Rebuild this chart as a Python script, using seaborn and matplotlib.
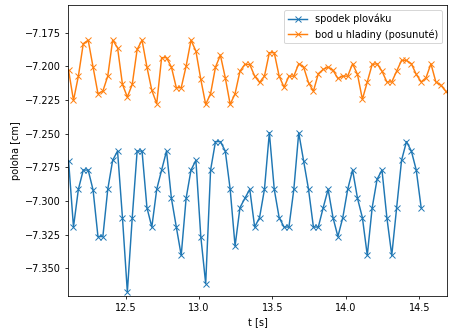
import numpy as np
import pandas as pd
import matplotlib
matplotlib.use("Agg")
import matplotlib.pyplot as plt
import seaborn as sns

# sampling: video at 30 fps, first frame at ~12.112 s
FPS = 30
T_START = 12.112

LABEL_BOTTOM = 'spodek plováku'
LABEL_SURFACE = 'bod u hladiny (posunuté)'

# poloha [cm]
bottom_pos = [
    -7.2703, -7.3193, -7.2913, -7.2770, -7.2770, -7.2918, -7.3264, -7.3264, -7.2913, -7.2698,
    -7.2629, -7.3123, -7.3675, -7.3123, -7.2629, -7.2629, -7.3049, -7.3193, -7.2913, -7.2770,
    -7.2629, -7.2980, -7.3193, -7.3403, -7.2980, -7.2770, -7.2698, -7.3264, -7.3613, -7.2770,
    -7.2559, -7.2559, -7.2629, -7.2913, -7.3334, -7.3049, -7.2980, -7.2913, -7.3193, -7.3123,
    -7.2913, -7.2493, -7.2913, -7.3123, -7.3193, -7.3193, -7.2913, -7.2493, -7.2703, -7.2913,
    -7.3193, -7.3193, -7.3049, -7.2913, -7.3123, -7.3264, -7.3123, -7.2913, -7.2770, -7.2980,
    -7.3123, -7.3403, -7.3049, -7.2839, -7.2770, -7.3123, -7.3403, -7.3049, -7.2698, -7.2559,
    -7.2629, -7.2770, -7.3049,
]

surface_pos = [
    -7.2030, -7.2253, -7.2073, -7.1832, -7.1806, -7.2006, -7.2203, -7.2184, -7.2073, -7.1806,
    -7.1862, -7.2134, -7.2228, -7.2134, -7.1875, -7.1806, -7.2006, -7.2179, -7.2277, -7.1936,
    -7.1936, -7.2006, -7.2159, -7.2159, -7.1999, -7.1806, -7.1887, -7.2097, -7.2283, -7.2203,
    -7.2006, -7.1917, -7.2085, -7.2283, -7.2203, -7.2036, -7.1986, -7.1986, -7.2073, -7.2120,
    -7.2073, -7.1899, -7.1899, -7.2073, -7.2155, -7.2073, -7.2073, -7.1981, -7.2006, -7.2122,
    -7.2184, -7.2055, -7.2023, -7.2006, -7.2030, -7.2090, -7.2073, -7.2073, -7.1981, -7.2060,
    -7.2245, -7.2116, -7.1986, -7.1981, -7.2036, -7.2116, -7.2116, -7.2036, -7.1956, -7.1956,
    -7.1981, -7.2060, -7.2116, -7.2085, -7.1981, -7.2116, -7.2139, -7.2184, -7.2225,
]

t_bottom = T_START + np.arange(len(bottom_pos)) / FPS
t_surface = T_START + np.arange(len(surface_pos)) / FPS

df_bottom = pd.DataFrame({'t': t_bottom, 'poloha': bottom_pos})
df_surface = pd.DataFrame({'t': t_surface, 'poloha': surface_pos})

# figure is 449x331 px; dpi 70 keeps the default text/marker sizes of the original
fig = plt.figure(figsize=(449 / 70, 331 / 70), dpi=70)
ax = fig.add_axes([68 / 449, 1 - 296 / 331, (447 - 68) / 449, (296 - 5) / 331])

for df, label, col in [(df_bottom, LABEL_BOTTOM, 'C0'), (df_surface, LABEL_SURFACE, 'C1')]:
    sns.lineplot(data=df, x='t', y='poloha', ax=ax, label=label, color=col,
                 marker='x', markeredgecolor=col, markeredgewidth=1.0, markersize=6,
                 linewidth=1.5, estimator=None, sort=False)

ax.set_xlim(12.108, 14.688)
ax.set_ylim(-7.3705, -7.1545)
ax.set_xlabel('t [s]')
ax.set_ylabel('poloha [cm]')
ax.legend(loc='upper right')

fig.savefig('out.png', dpi=70)
